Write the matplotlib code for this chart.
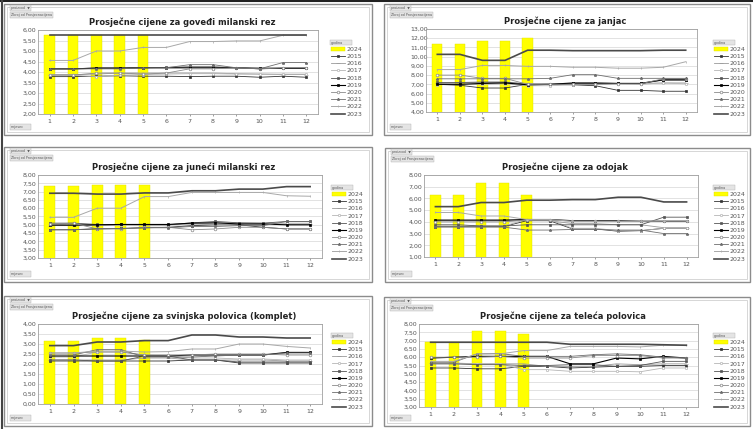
import matplotlib
matplotlib.use('Agg')
import matplotlib.pyplot as plt
from matplotlib.patches import Rectangle, Patch
from matplotlib.lines import Line2D
from matplotlib.ticker import FuncFormatter

W, H = 753, 429

months = list(range(1, 13))
years = [2015, 2016, 2017, 2018, 2019, 2020, 2021, 2022, 2023]

# --- goveđi milanski rez ---
gov_2024 = [5.75, 5.75, 5.75, 5.75, 5.75]
gov = {
    2015: [3.78, 3.78, 3.80, 3.82, 3.80, 3.80, 3.78, 3.80, 3.80, 3.75, 3.80, 3.75],
    2016: [3.88, 3.88, 3.90, 3.95, 3.95, 3.95, 3.95, 3.95, 3.92, 3.90, 3.88, 3.88],
    2017: [3.85, 3.85, 3.78, 3.85, 3.88, 3.90, 3.92, 3.92, 3.90, 3.90, 3.90, 3.90],
    2018: [4.15, 4.15, 4.20, 4.20, 4.20, 4.22, 4.25, 4.25, 4.20, 4.15, 4.18, 4.18],
    2019: [4.15, 4.15, 4.18, 4.18, 4.20, 4.20, 4.20, 4.20, 4.20, 4.18, 4.18, 4.18],
    2020: [3.85, 3.85, 3.95, 3.95, 3.90, 3.95, 4.15, 4.15, 4.20, 4.15, 4.20, 4.20],
    2021: [4.15, 4.15, 4.15, 4.15, 4.20, 4.20, 4.35, 4.35, 4.20, 4.15, 4.45, 4.45],
    2022: [4.55, 4.55, 5.00, 5.00, 5.17, 5.17, 5.45, 5.45, 5.48, 5.48, 5.75, 5.75],
    2023: [5.75, 5.75, 5.75, 5.75, 5.75, 5.75, 5.75, 5.75, 5.75, 5.75, 5.75, 5.75],
}

# --- janjac ---
jan_2024 = [11.4, 11.4, 11.75, 11.75, 12.0]
jan = {
    2015: [7.0, 6.9, 6.6, 6.6, 7.0, 7.0, 6.95, 6.85, 6.35, 6.35, 6.25, 6.25],
    2016: [7.1, 7.15, 7.2, 7.2, 7.1, 7.05, 7.1, 7.1, 7.1, 7.1, 7.15, 7.15],
    2017: [6.95, 7.0, 7.0, 7.05, 6.85, 6.85, 6.95, 7.0, 7.05, 7.0, 7.15, 7.05],
    2018: [7.2, 7.2, 7.25, 7.25, 7.0, 7.0, 7.1, 7.1, 7.1, 7.1, 7.45, 7.45],
    2019: [7.0, 7.0, 7.1, 7.15, 6.95, 7.0, 7.15, 7.15, 7.1, 7.1, 7.5, 7.5],
    2020: [8.0, 8.0, 7.65, 7.65, 7.0, 7.0, 7.0, 7.0, 7.05, 7.05, 7.6, 7.6],
    2021: [7.6, 7.6, 7.6, 7.6, 7.6, 7.65, 8.05, 8.05, 7.65, 7.65, 7.65, 7.65],
    2022: [8.6, 8.6, 9.05, 9.05, 8.95, 8.95, 8.85, 8.85, 8.75, 8.75, 8.85, 9.45],
    2023: [10.25, 10.25, 9.6, 9.6, 10.7, 10.7, 10.65, 10.65, 10.65, 10.65, 10.7, 10.7],
}

# --- juneći milanski rez ---
jun_2024 = [7.35, 7.35, 7.4, 7.4, 7.4]
jun = {
    2015: [4.7, 4.7, 4.75, 4.78, 4.82, 4.85, 4.95, 5.0, 5.0, 4.85, 4.75, 4.75],
    2016: [4.95, 4.95, 4.95, 4.98, 5.0, 5.0, 5.05, 5.0, 5.05, 5.05, 5.05, 5.05],
    2017: [5.0, 5.05, 5.0, 5.0, 5.0, 5.0, 5.05, 5.1, 5.1, 5.1, 5.1, 5.1],
    2018: [5.1, 5.1, 5.02, 5.02, 5.0, 5.0, 5.12, 5.2, 5.12, 5.1, 5.2, 5.2],
    2019: [4.98, 4.98, 5.0, 5.02, 5.02, 5.02, 5.1, 5.12, 5.05, 5.05, 5.0, 5.0],
    2020: [5.05, 5.1, 4.75, 4.75, 4.85, 4.85, 4.7, 4.75, 4.85, 4.85, 4.75, 4.75],
    2021: [4.7, 4.7, 4.78, 4.78, 4.82, 4.82, 4.9, 4.9, 4.95, 4.95, 5.2, 5.2],
    2022: [5.45, 5.45, 6.0, 6.0, 6.7, 6.7, 6.95, 6.95, 6.95, 6.95, 6.75, 6.72],
    2023: [6.9, 6.9, 6.85, 6.85, 6.92, 6.92, 7.05, 7.05, 7.15, 7.15, 7.3, 7.3],
}

# --- odojak ---
odo_2024 = [6.3, 6.3, 7.3, 7.3, 6.3]
odo = {
    2015: [3.6, 3.6, 3.6, 3.6, 4.1, 4.1, 3.4, 3.4, 3.2, 3.25, 3.45, 3.45],
    2016: [4.1, 4.1, 4.1, 4.1, 4.1, 4.1, 3.85, 3.85, 3.75, 3.75, 3.5, 3.5],
    2017: [3.65, 3.65, 3.65, 3.65, 4.2, 4.2, 3.45, 3.45, 3.25, 3.25, 3.45, 3.45],
    2018: [3.75, 3.75, 3.65, 3.65, 3.75, 3.75, 3.75, 3.75, 3.75, 3.75, 4.4, 4.4],
    2019: [4.15, 4.15, 4.15, 4.15, 4.2, 4.2, 4.1, 4.1, 4.1, 4.05, 4.05, 4.05],
    2020: [4.0, 4.0, 4.0, 4.0, 4.15, 4.15, 4.05, 4.05, 4.05, 4.05, 4.05, 4.05],
    2021: [3.55, 3.55, 3.55, 3.55, 3.3, 3.3, 3.35, 3.35, 3.3, 3.3, 3.0, 3.0],
    2022: [4.8, 4.8, 4.5, 4.5, 4.2, 4.2, 4.05, 4.05, 4.05, 4.05, 4.1, 4.1],
    2023: [5.3, 5.3, 5.65, 5.65, 5.85, 5.85, 5.9, 5.9, 6.1, 6.1, 5.7, 5.7],
}

# --- svinjska polovica ---
svi_2024 = [3.15, 3.15, 3.32, 3.32, 3.22]
svi = {
    2015: [2.15, 2.15, 2.15, 2.15, 2.15, 2.15, 2.2, 2.2, 2.05, 2.05, 2.05, 2.05],
    2016: [2.2, 2.2, 2.2, 2.2, 2.3, 2.3, 2.2, 2.2, 2.2, 2.2, 2.15, 2.15],
    2017: [2.35, 2.35, 2.6, 2.6, 2.45, 2.4, 2.3, 2.3, 2.25, 2.25, 2.2, 2.2],
    2018: [2.2, 2.2, 2.15, 2.15, 2.4, 2.4, 2.2, 2.2, 2.1, 2.1, 2.1, 2.1],
    2019: [2.4, 2.4, 2.4, 2.4, 2.4, 2.4, 2.45, 2.45, 2.45, 2.45, 2.58, 2.58],
    2020: [2.55, 2.55, 2.6, 2.6, 2.45, 2.45, 2.45, 2.5, 2.5, 2.5, 2.45, 2.45],
    2021: [2.45, 2.45, 2.72, 2.72, 2.35, 2.35, 2.35, 2.4, 2.45, 2.45, 2.55, 2.55],
    2022: [2.55, 2.55, 2.65, 2.65, 2.6, 2.62, 2.75, 2.75, 3.0, 3.0, 2.88, 2.8],
    2023: [2.92, 2.92, 3.1, 3.1, 3.17, 3.17, 3.45, 3.45, 3.35, 3.35, 3.3, 3.3],
}

# --- teleća polovica ---
tel_2024 = [6.9, 6.9, 7.6, 7.6, 7.4]
tel = {
    2015: [5.35, 5.35, 5.3, 5.3, 5.45, 5.45, 5.35, 5.4, 5.45, 5.45, 5.5, 5.5],
    2016: [5.65, 5.65, 5.6, 5.6, 5.6, 5.45, 5.45, 5.45, 5.6, 5.55, 5.6, 5.6],
    2017: [5.6, 5.6, 5.6, 5.6, 5.25, 5.25, 5.15, 5.15, 5.15, 5.12, 5.35, 5.35],
    2018: [5.6, 5.6, 5.55, 5.55, 5.5, 5.5, 5.55, 5.55, 5.45, 5.5, 5.75, 5.75],
    2019: [5.95, 6.0, 6.05, 6.05, 6.05, 6.05, 5.6, 5.6, 5.95, 5.9, 6.05, 5.95],
    2020: [6.0, 6.0, 6.0, 6.05, 5.95, 5.95, 5.95, 6.1, 6.1, 6.1, 5.95, 5.95],
    2021: [5.7, 5.7, 6.2, 6.22, 6.05, 6.05, 6.05, 6.15, 6.2, 6.15, 6.0, 5.95],
    2022: [5.75, 5.75, 6.2, 6.2, 6.4, 6.4, 6.65, 6.65, 6.65, 6.62, 6.72, 6.72],
    2023: [6.9, 6.9, 6.9, 6.9, 6.9, 6.9, 6.78, 6.78, 6.78, 6.78, 6.75, 6.72],
}

# year -> (color, marker, markersize, markerfacecolor, linewidth)
styles = {
    2015: ('#333333', 's', 1.5, '#333333', 0.6),
    2016: ('#9a9a9a', '_', 2.2, '#9a9a9a', 0.6),
    2017: ('#b5b5b5', 'o', 1.7, 'white', 0.6),
    2018: ('#555555', 's', 1.5, '#555555', 0.6),
    2019: ('#000000', 's', 2.1, '#000000', 0.8),
    2020: ('#8a8a8a', 'o', 1.9, 'white', 0.6),
    2021: ('#6e6e6e', '*', 2.0, '#6e6e6e', 0.6),
    2022: ('#a8a8a8', '|', 1.8, '#a8a8a8', 0.7),
    2023: ('#4a4a4a', None, 0, '#4a4a4a', 1.2),
}

# panel: (title, bars, lines, ylim, ystep, box px, plot px, legend top-left px)
panels = [
    ('Prosječne cijene za goveđi milanski rez', gov_2024, gov, (2, 6), 0.5,
     (4, 4, 372, 135), (38, 30, 318, 114), (327, 37)),
    ('Prosječne cijene za janjac', jan_2024, jan, (4, 13), 1,
     (384, 4, 750, 135), (426, 29, 697, 112), (710, 37)),
    ('Prosječne cijene za juneći milanski rez', jun_2024, jun, (3, 8), 0.5,
     (4, 147, 372, 282), (38, 175, 322, 258), (328, 182)),
    ('Prosječne cijene za odojak', odo_2024, odo, (1, 8), 1,
     (385, 148, 750, 282), (424, 175, 698, 257), (710, 182)),
    ('Prosječne cijene za svinjska polovica (komplet)', svi_2024, svi, (0, 4), 0.5,
     (4, 296, 372, 426), (38, 324, 322, 404), (328, 330)),
    ('Prosječne cijene za teleća polovica', tel_2024, tel, (3, 8), 0.5,
     (384, 297, 750, 426), (419, 324, 698, 407), (710, 330)),
]


def rect(x0, y0, x1, y1):
    return [x0 / W, 1 - y1 / H, (x1 - x0) / W, (y1 - y0) / H]


fig = plt.figure(figsize=(W / 100, H / 100), dpi=100)
fig.patch.set_facecolor('white')

comma = FuncFormatter(lambda v, p: f'{v:.2f}'.replace('.', ','))

for title, bars, lines, ylim, ystep, box, area, leg in panels:
    bx0, by0, bx1, by1 = box
    fig.add_artist(Rectangle((bx0 / W, 1 - by1 / H), (bx1 - bx0) / W, (by1 - by0) / H,
                             transform=fig.transFigure, facecolor='white',
                             edgecolor='#8c8c8c', linewidth=1.0, zorder=0))
    fig.add_artist(Rectangle(((bx0 + 3) / W, 1 - (by1 - 3) / H), (bx1 - bx0 - 6) / W,
                             (by1 - by0 - 6) / H, transform=fig.transFigure,
                             facecolor='white', edgecolor='#d0d0d0', linewidth=0.6, zorder=0))

    # pivot field buttons
    btn = dict(boxstyle='square,pad=0.25', facecolor='#e4e4e4', edgecolor='#b0b0b0', lw=0.3)
    fig.text((bx0 + 7) / W, 1 - (by0 + 4) / H, 'proizvod  ▼', fontsize=2.4, color='#555555',
             va='center', bbox=btn)
    fig.text((bx0 + 7) / W, 1 - (by0 + 11) / H, 'Zbroj od Prosjecnacijena', fontsize=2.4,
             color='#555555', va='center', bbox=btn)
    fig.text((bx0 + 7) / W, 1 - (by1 - 8) / H, 'mjesec      ', fontsize=2.4, color='#555555',
             va='center', bbox=btn)

    ax = fig.add_axes(rect(*area))
    ax.bar(months[:len(bars)], bars, width=0.46, color='#ffff00', edgecolor='#e0e000',
           linewidth=0.3, zorder=2)
    for y in years:
        c, m, ms, mfc, lw = styles[y]
        ax.plot(months, lines[y], color=c, marker=m, markersize=ms, markerfacecolor=mfc,
                markeredgecolor=c, markeredgewidth=0.5, linewidth=lw, zorder=3)

    ax.set_xlim(0.5, 12.5)
    ax.set_ylim(*ylim)
    yt = []
    v = ylim[0]
    while v <= ylim[1] + 1e-9:
        yt.append(v)
        v += ystep
    ax.set_yticks(yt)
    ax.set_xticks(months)
    ax.yaxis.set_major_formatter(comma)
    ax.tick_params(axis='both', labelsize=4.5, colors='#555555', length=1.5, width=0.4, pad=2)
    ax.tick_params(axis='y', length=0, pad=11)
    for lbl in ax.get_yticklabels():
        lbl.set_horizontalalignment('left')
    ax.grid(axis='y', color='#d6d6d6', linewidth=0.5, zorder=0)
    ax.set_axisbelow(True)
    for s in ax.spines.values():
        s.set_color('#a0a0a0')
        s.set_linewidth(0.6)

    cx = (area[0] + area[2]) / 2 + 4
    fig.text(cx / W, 1 - (area[1] - 8) / H, title, fontsize=6.0, fontweight='bold',
             color='#222222', ha='center', va='center')

    handles = [Patch(facecolor='#ffff00', edgecolor='#e0e000', linewidth=0.3)]
    labels = ['2024']
    for y in years:
        c, m, ms, mfc, lw = styles[y]
        handles.append(Line2D([], [], color=c, marker=m, markersize=ms, markerfacecolor=mfc,
                              markeredgecolor=c, markeredgewidth=0.5, linewidth=lw))
        labels.append(str(y))
    lg = fig.legend(handles, labels, loc='upper left',
                    bbox_to_anchor=(leg[0] / W, 1 - leg[1] / H), fontsize=4.5,
                    frameon=False, handlelength=2.2, handleheight=0.6, labelspacing=0.32,
                    borderpad=0.1, handletextpad=0.3, title='godina        ',
                    title_fontsize=2.4, alignment='left')
    for t in lg.get_texts():
        t.set_color('#555555')
    lg.get_title().set_color('#555555')
    lg.get_title().set_bbox(dict(boxstyle='square,pad=0.2', facecolor='#e4e4e4',
                                 edgecolor='#b0b0b0', lw=0.3))

# document edge lines
fig.add_artist(Line2D([0, 1], [0.998, 0.998], transform=fig.transFigure, color='#222222', lw=1.5))
fig.add_artist(Line2D([0.002, 0.002], [0, 1], transform=fig.transFigure, color='#444444', lw=1.5))

fig.savefig('out.png', dpi=100)
